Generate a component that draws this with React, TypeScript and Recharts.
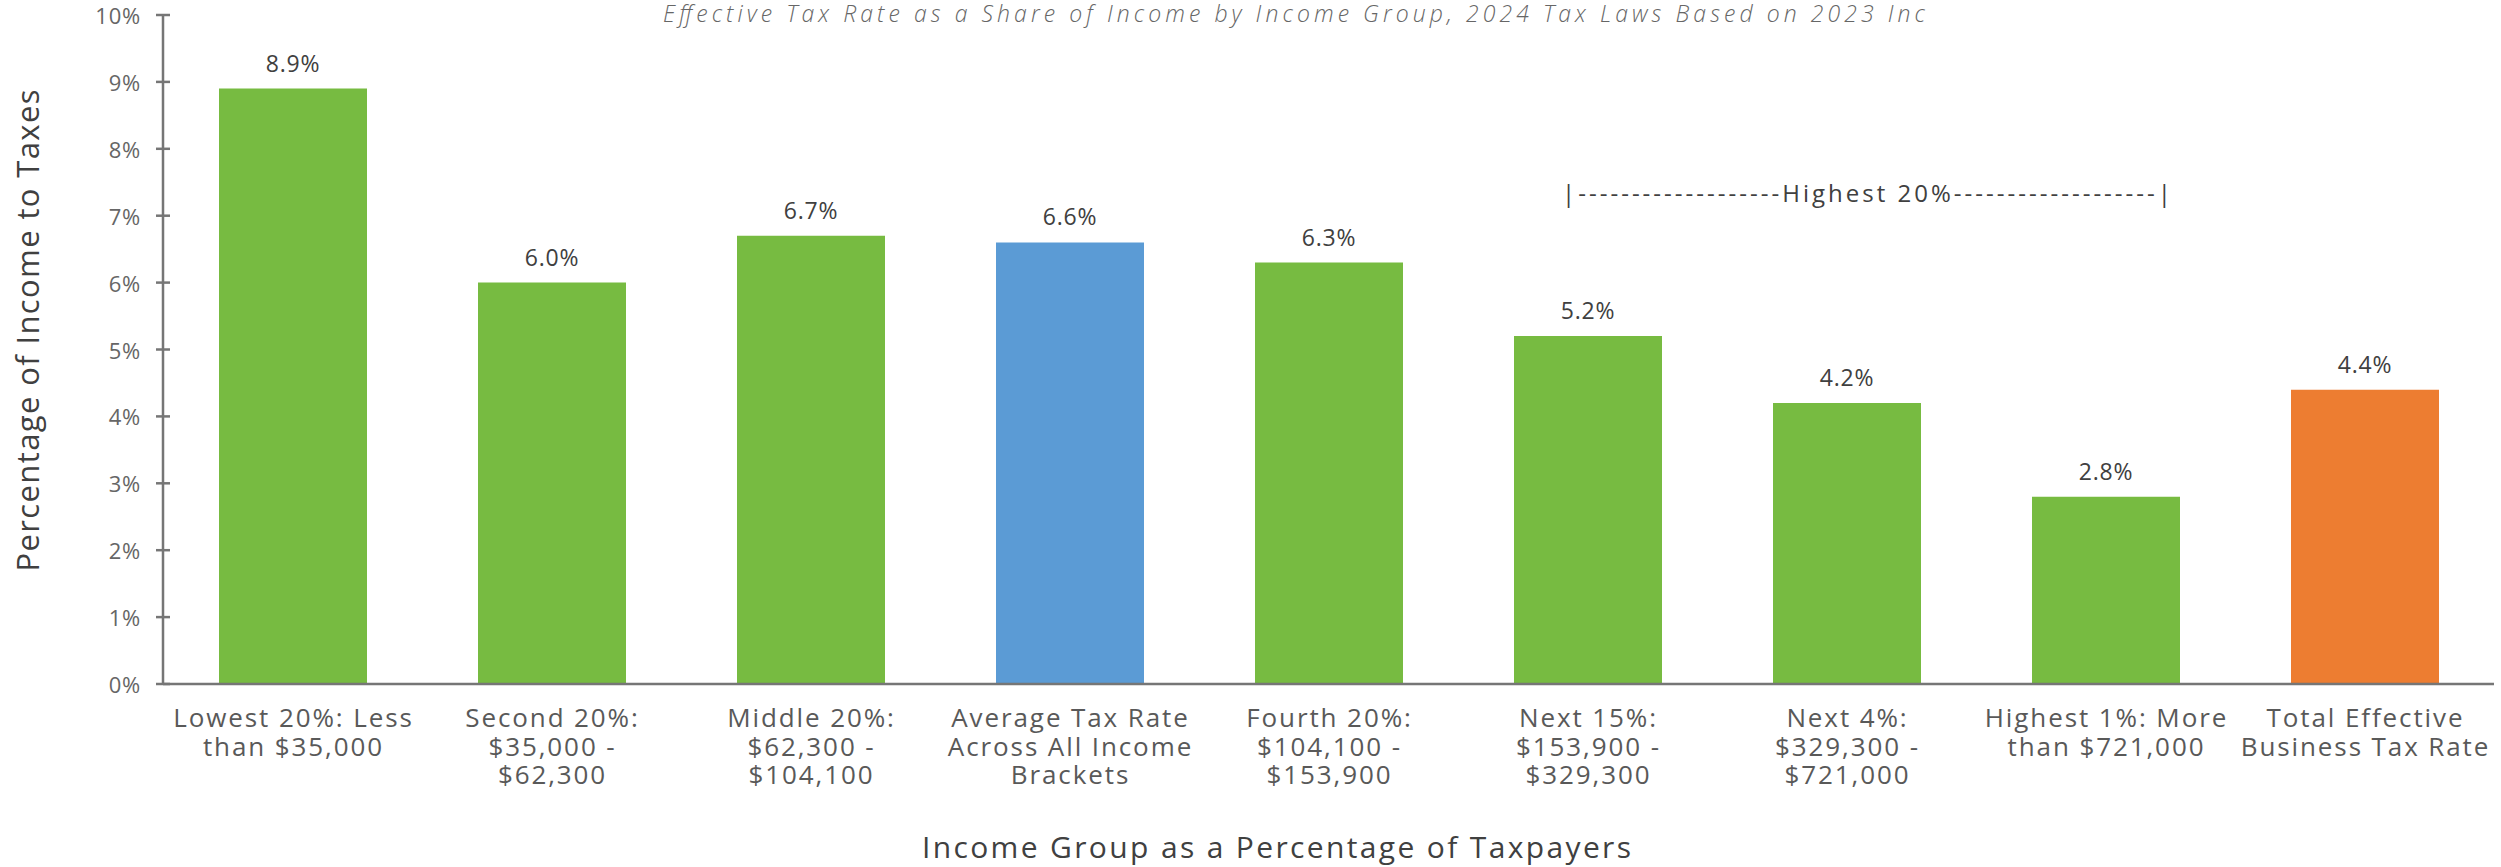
import React from 'react';
import { BarChart, Bar, XAxis, YAxis, Cell, LabelList, ReferenceDot } from 'recharts';

const categories = [
  'Lowest 20%: Less than $35,000',
  'Second 20%: $35,000 - $62,300',
  'Middle 20%: $62,300 - $104,100',
  'Average Tax Rate Across All Income Brackets',
  'Fourth 20%: $104,100 - $153,900',
  'Next 15%: $153,900 - $329,300',
  'Next 4%: $329,300 - $721,000',
  'Highest 1%: More than $721,000',
  'Total Effective Business Tax Rate',
];
const rates = [8.9, 6.0, 6.7, 6.6, 6.3, 5.2, 4.2, 2.8, 4.4];
const groups = ['income', 'income', 'income', 'average', 'income', 'income', 'income', 'income', 'business'];
const tickLabelLines = [
  ['Lowest 20%: Less', 'than $35,000'],
  ['Second 20%:', '$35,000 -', '$62,300'],
  ['Middle 20%:', '$62,300 -', '$104,100'],
  ['Average Tax Rate', 'Across All Income', 'Brackets'],
  ['Fourth 20%:', '$104,100 -', '$153,900'],
  ['Next 15%:', '$153,900 -', '$329,300'],
  ['Next 4%:', '$329,300 -', '$721,000'],
  ['Highest 1%: More', 'than $721,000'],
  ['Total Effective', 'Business Tax Rate'],
];
const yTicks = [0, 1, 2, 3, 4, 5, 6, 7, 8, 9, 10];
const chartTitle = 'Effective Tax Rate as a Share of Income by Income Group, 2024 Tax Laws Based on 2023 Inc';
const xAxisTitle = 'Income Group as a Percentage of Taxpayers';
const yAxisTitle = 'Percentage of Income to Taxes';
const bracketText = '|-------------------Highest 20%-------------------|';
const bracketCategory = categories[6];
const bracketValue = 7.2;

const groupColors: Record<string, string> = {
  income: '#77BB41',
  average: '#5B9BD5',
  business: '#ED7D31',
};

const FONT = "'Open Sans', sans-serif";
const AXIS_COLOR = '#767676';

const data = categories.map((name, i) => ({ name, value: rates[i], group: groups[i] }));

const YTick = (props: any) => {
  const { x, y, payload } = props;
  const axisX = x + 22;
  return (
    <g>
      <line x1={axisX - 7} x2={axisX + 7} y1={y} y2={y} stroke={AXIS_COLOR} strokeWidth={2.5} />
      <text
        x={x}
        y={y}
        textAnchor="end"
        dominantBaseline="central"
        fontFamily={FONT}
        fontSize={22}
        letterSpacing={0.8}
        fill="#666666"
      >
        {`${payload.value}%`}
      </text>
    </g>
  );
};

const XTick = (props: any) => {
  const { x, y, payload } = props;
  const idx = categories.indexOf(payload.value);
  const lines = tickLabelLines[idx] || [payload.value];
  return (
    <text x={x} y={y} textAnchor="middle" fontFamily={FONT} fontSize={26} letterSpacing={1.9} fill="#595959">
      {lines.map((l, i) => (
        <tspan key={i} x={x + 1} y={y + 43 + i * 28.5}>
          {l}
        </tspan>
      ))}
    </text>
  );
};

const renderXTitle = (props: any) => {
  const vb = props.viewBox;
  return (
    <text
      x={vb.x + vb.width / 2 - 52}
      y={vb.y + 174}
      textAnchor="middle"
      fontFamily={FONT}
      fontSize={30}
      textLength={709}
      fill="#404040"
    >
      {xAxisTitle}
    </text>
  );
};

const renderYTitle = (props: any) => {
  const vb = props.viewBox;
  const cx = vb.x - 36;
  const cy = vb.y + vb.height / 2 - 19;
  return (
    <text
      x={cx}
      y={cy}
      transform={`rotate(-90, ${cx}, ${cy})`}
      textAnchor="middle"
      dominantBaseline="central"
      fontFamily={FONT}
      fontSize={31}
      textLength={482}
      fill="#404040"
    >
      {yAxisTitle}
    </text>
  );
};

const renderBracket = (props: any) => {
  const vb = props.viewBox;
  const cx = vb.x + (vb.width || 0) / 2 + 20;
  return (
    <text
      x={cx}
      y={vb.y + (vb.height || 0) / 2}
      textAnchor="middle"
      fontFamily={FONT}
      fontSize={24}
      textLength={609}
      fill="#404040"
    >
      {bracketText}
    </text>
  );
};

export default function App() {
  return (
    <div style={{ position: 'absolute', left: 0, top: 0, width: 2501, height: 867, background: '#ffffff' }}>
      <svg
        width={2501}
        height={32}
        style={{ position: 'absolute', left: 0, top: 0, zIndex: 2, pointerEvents: 'none' }}
      >
        <text
          x={1294}
          y={22}
          textAnchor="middle"
          fontFamily={FONT}
          fontStyle="italic"
          fontWeight={300}
          fontSize={23}
          textLength={1262}
          fill="#666666"
        >
          {chartTitle}
        </text>
      </svg>
      <BarChart
        width={2501}
        height={867}
        data={data}
        margin={{ top: 15, right: 7, bottom: 63, left: 63 }}
        barSize={148}
      >
        <XAxis
          dataKey="name"
          height={120}
          interval={0}
          tickLine={false}
          tickSize={0}
          tickMargin={0}
          axisLine={{ stroke: AXIS_COLOR, strokeWidth: 2.5 }}
          tick={<XTick />}
          label={renderXTitle}
        />
        <YAxis
          width={100}
          type="number"
          domain={[0, 10]}
          ticks={yTicks}
          interval={0}
          tickLine={false}
          tickSize={0}
          tickMargin={22}
          axisLine={{ stroke: AXIS_COLOR, strokeWidth: 2.5 }}
          tick={<YTick />}
          label={renderYTitle}
        />
        <Bar dataKey="value" isAnimationActive={false}>
          {data.map((d, i) => (
            <Cell key={i} fill={groupColors[d.group]} />
          ))}
          <LabelList
            dataKey="value"
            position="top"
            offset={17}
            formatter={(v: any) => `${Number(v).toFixed(1)}%`}
            style={{ fontFamily: FONT, fontSize: 23, letterSpacing: 0.8, fill: '#404040' }}
          />
        </Bar>
        <ReferenceDot
          x={bracketCategory}
          y={bracketValue}
          r={0}
          fill="none"
          stroke="none"
          label={renderBracket}
        />
      </BarChart>
    </div>
  );
}
